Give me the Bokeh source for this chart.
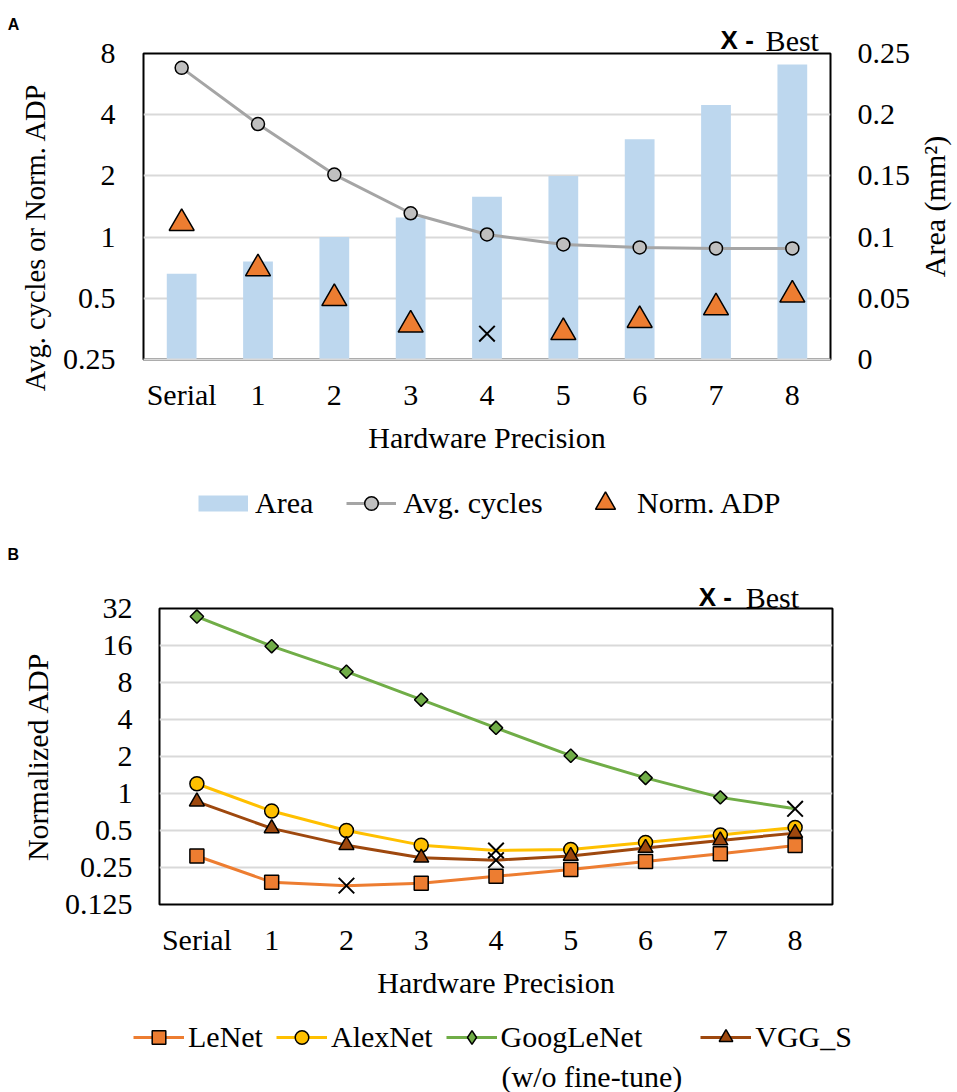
import math
from bokeh.plotting import figure
from bokeh.models import (FactorRange, Range1d, LinearAxis, LinearScale,
                          FixedTicker, Legend, LegendItem)
from bokeh.core.properties import value
from bokeh.embed import file_html
from bokeh.resources import INLINE

# ---------------- data ----------------
categories = ["Serial", "1", "2", "3", "4", "5", "6", "7", "8"]

# Panel A
area_mm2 = [0.070, 0.080, 0.100, 0.116, 0.133, 0.150, 0.180, 0.208, 0.241]
avg_cycles = [6.8, 3.6, 2.03, 1.31, 1.03, 0.92, 0.89, 0.88, 0.88]
norm_adp_a = [1.17, 0.70, 0.50, 0.37, 0.335, 0.34, 0.39, 0.45, 0.52]
best_a = "4"
a_left_ticks = [0.25, 0.5, 1, 2, 4, 8]
a_left_labels = ["0.25", "0.5", "1", "2", "4", "8"]
a_right_ticks = [0, 0.05, 0.1, 0.15, 0.2, 0.25]
a_right_labels = ["0", "0.05", "0.1", "0.15", "0.2", "0.25"]

# Panel B
lenet = [0.31, 0.19, 0.178, 0.186, 0.212, 0.241, 0.28, 0.323, 0.377]
alexnet = [1.2, 0.72, 0.50, 0.38, 0.344, 0.35, 0.40, 0.46, 0.53]
googlenet = [27.5, 15.8, 9.8, 5.8, 3.42, 2.03, 1.34, 0.93, 0.75]
vgg_s = [0.86, 0.52, 0.38, 0.30, 0.287, 0.31, 0.36, 0.415, 0.476]
best_lenet = "2"
best_alexnet = "4"
best_googlenet = "8"
best_vgg_s = "4"
b_ticks = [0.125, 0.25, 0.5, 1, 2, 4, 8, 16, 32]
b_labels = ["0.125", "0.25", "0.5", "1", "2", "4", "8", "16", "32"]

SERIF = "Liberation Serif"
SANS = "Liberation Sans"
FS = "30px"
GRID = "#D9D9D9"
NBSP = "\u00a0"
W = 957


def overrides(ticks, labels):
    return {t: l for t, l in zip(ticks, labels)}


def text_axis(ax):
    ax.major_label_text_font = SERIF
    ax.major_label_text_font_size = FS
    ax.major_label_text_color = "black"
    ax.axis_label_text_font = SERIF
    ax.axis_label_text_font_size = FS
    ax.axis_label_text_font_style = "normal"
    ax.axis_label_text_color = "black"
    ax.major_tick_line_color = None
    ax.minor_tick_line_color = None
    ax.major_tick_out = 0
    ax.major_tick_in = 0
    ax.minor_tick_out = 0
    ax.minor_tick_in = 0


def split(xs, ys, best):
    keep_x, keep_y, bx, by = [], [], [], []
    for x, y in zip(xs, ys):
        if x == best:
            bx.append(x); by.append(y)
        else:
            keep_x.append(x); keep_y.append(y)
    return keep_x, keep_y, bx, by


def note(p, x, y, txt, font=SERIF, size=FS, bold=False, angle=0.0,
         align="left", baseline="alphabetic"):
    p.text(x=[x], y=[y], text=[txt], angle=angle, text_font=value(font),
           text_font_size=value(size), text_font_style="bold" if bold else "normal",
           text_color="black", text_align=align, text_baseline=baseline,
           level="overlay")


def strip(h):
    f = figure(width=W, height=h, x_range=Range1d(0, W), y_range=Range1d(0, h),
               output_backend="svg", toolbar_location=None,
               x_axis_location=None, y_axis_location=None, min_border=0)
    f.outline_line_color = None
    f.grid.visible = False
    return f


def legend(items, loc, gw, gh, spacing, standoff):
    return Legend(items=items, orientation="horizontal", location=loc,
                  label_text_font=SERIF, label_text_font_size=FS, label_text_color="black",
                  glyph_width=gw, glyph_height=gh, spacing=spacing, label_standoff=standoff,
                  border_line_color=None, background_fill_alpha=0,
                  padding=0, margin=0)


# ---------------- Panel A ----------------
pa = figure(width=W, height=470, x_range=FactorRange(*categories),
            y_range=Range1d(0.25, 8), y_axis_type="log",
            output_backend="svg", toolbar_location=None,
            min_border_left=143, min_border_right=127,
            min_border_top=53, min_border_bottom=111)
pa.extra_y_ranges = {"area": Range1d(0, 0.25)}
pa.extra_y_scales = {"area": LinearScale()}
pa.outline_line_color = "black"
pa.outline_line_width = 2
pa.xgrid.visible = False
pa.ygrid.ticker = FixedTicker(ticks=a_left_ticks[1:-1])
pa.ygrid.grid_line_color = GRID
pa.ygrid.grid_line_width = 2

ya = pa.yaxis[0]
ya.ticker = FixedTicker(ticks=a_left_ticks)
ya.major_label_overrides = overrides(a_left_ticks, a_left_labels)
text_axis(ya)
ya.major_label_standoff = 28
ya.axis_line_color = None

xa = pa.xaxis[0]
xa.axis_label = "Hardware Precision"
text_axis(xa)
xa.major_label_standoff = 18
xa.axis_label_standoff = 7
xa.axis_line_color = GRID
xa.axis_line_width = 2

ra = LinearAxis(y_range_name="area", ticker=FixedTicker(ticks=a_right_ticks),
                major_label_overrides=overrides(a_right_ticks, a_right_labels))
text_axis(ra)
ra.major_label_standoff = 27
ra.axis_line_color = None
pa.add_layout(ra, "right")

pa.vbar(x=categories, top=area_mm2, width=0.39, y_range_name="area",
        fill_color="#BDD7EE", line_color=None)
pa.line(x=categories, y=avg_cycles, line_color="#A5A5A5", line_width=3)
pa.scatter(x=categories, y=avg_cycles, marker="circle", size=13,
           fill_color="#BFBFBF", line_color="black", line_width=1.5)
kx, ky, bx, by = split(categories, norm_adp_a, best_a)
pa.scatter(x=kx, y=ky, marker="triangle", size=25,
           fill_color="#ED7D31", line_color="black", line_width=1.5)
pa.scatter(x=bx, y=by, marker="x", size=22, line_color="black", line_width=2)

note(pa, -1.414, 1.0, "Avg. cycles or Norm. ADP", size="28.5px", angle=math.pi / 2,
     align="center", baseline="middle")
note(pa, 10.363, 1.414, "Area (mm²)", angle=math.pi / 2, align="center", baseline="middle")
note(pa, -1.78, 11.09, "A", font=SANS, size="16px", bold=True)
note(pa, 7.56, 9.27, "X -", font=SANS, size="26px", bold=True)
note(pa, 8.15, 9.27, "Best")

# ---------------- Legend A strip ----------------
la = strip(66)
OFF = [-60, -50]
k_area = la.line(x=OFF, y=OFF, line_color="#BDD7EE", line_width=16, line_cap="butt")
k_avg_l = la.line(x=OFF, y=OFF, line_color="#A5A5A5", line_width=3)
k_avg_m = la.scatter(x=OFF, y=OFF, marker="circle", fill_color="#BFBFBF",
                     line_color="black", line_width=1.5)
k_adp = la.scatter(x=OFF, y=OFF, marker="triangle", fill_color="#ED7D31",
                   line_color="black", line_width=1.5)
la.add_layout(legend([LegendItem(label="Area", renderers=[k_area]),
                      LegendItem(label="Avg. cycles", renderers=[k_avg_l, k_avg_m])],
                     (198, 16), 50, 34, 33, 7), "center")
la.add_layout(legend([LegendItem(label="Norm. ADP", renderers=[k_adp])],
                     (580, 8), 50, 50, 33, 7), "center")

# ---------------- Panel B ----------------
pb = figure(width=W, height=474, x_range=FactorRange(*categories),
            y_range=Range1d(0.125, 32), y_axis_type="log",
            output_backend="svg", toolbar_location=None,
            min_border_left=159, min_border_right=125,
            min_border_top=72, min_border_bottom=106)
pb.outline_line_color = "black"
pb.outline_line_width = 2
pb.xgrid.visible = False
pb.ygrid.ticker = FixedTicker(ticks=b_ticks[1:-1])
pb.ygrid.grid_line_color = GRID
pb.ygrid.grid_line_width = 2

yb = pb.yaxis[0]
yb.ticker = FixedTicker(ticks=b_ticks)
yb.major_label_overrides = overrides(b_ticks, b_labels)
yb.axis_label = "Normalized ADP"
text_axis(yb)
yb.major_label_standoff = 27
yb.axis_label_standoff = 8
yb.axis_line_color = None

xb = pb.xaxis[0]
xb.axis_label = "Hardware Precision"
text_axis(xb)
xb.major_label_standoff = 18
xb.axis_label_standoff = 7
xb.axis_line_color = None

# name, values, best, colour, marker, size, angle, legend marker
series = [
    ("LeNet", lenet, best_lenet, "#ED7D31", "square", 14, 0.0, "square"),
    ("AlexNet", alexnet, best_alexnet, "#FFC000", "circle", 14, 0.0, "circle"),
    ("GoogLeNet", googlenet, best_googlenet, "#70AD47", "square", 9.5, math.pi / 4, "diamond"),
    ("VGG_S", vgg_s, best_vgg_s, "#9E480E", "triangle", 15, 0.0, "triangle"),
]
for name, vals, best, col, mk, sz, ang, lmk in series:
    pb.line(x=categories, y=vals, line_color=col, line_width=3)
for idx in [2, 1, 3, 0]:
    name, vals, best, col, mk, sz, ang, lmk = series[idx]
    kx, ky, bx, by = split(categories, vals, best)
    pb.scatter(x=kx, y=ky, marker=mk, size=sz, angle=ang, fill_color=col,
               line_color="black", line_width=1.5)
for name, vals, best, col, mk, sz, ang, lmk in series:
    kx, ky, bx, by = split(categories, vals, best)
    pb.scatter(x=bx, y=by, marker="x", size=22, line_color="black", line_width=2)

note(pb, -2.033, 88.0, "B", font=SANS, size="16px", bold=True)
note(pb, 7.21, 39.35, "X -", font=SANS, size="26px", bold=True)
note(pb, 7.84, 39.35, "Best")

# ---------------- Legend B strip ----------------
lb = strip(82)
legend_labels = {"LeNet": "LeNet", "AlexNet": "AlexNet",
                 "GoogLeNet": "GoogLeNet" + NBSP * 6, "VGG_S": "VGG_S"}
items = []
for name, vals, best, col, mk, sz, ang, lmk in series:
    kl = lb.line(x=OFF, y=OFF, line_color=col, line_width=3)
    km = lb.scatter(x=OFF, y=OFF, marker=lmk, fill_color=col,
                    line_color="black", line_width=1.5)
    items.append(LegendItem(label=legend_labels[name], renderers=[kl, km]))
lb.add_layout(legend(items, (133, 38), 51, 34, 13, 4), "center")
note(lb, 501, 16, "(w/o fine-tune)")

open("out.html", "w").write(file_html([pa, la, pb, lb], INLINE))
